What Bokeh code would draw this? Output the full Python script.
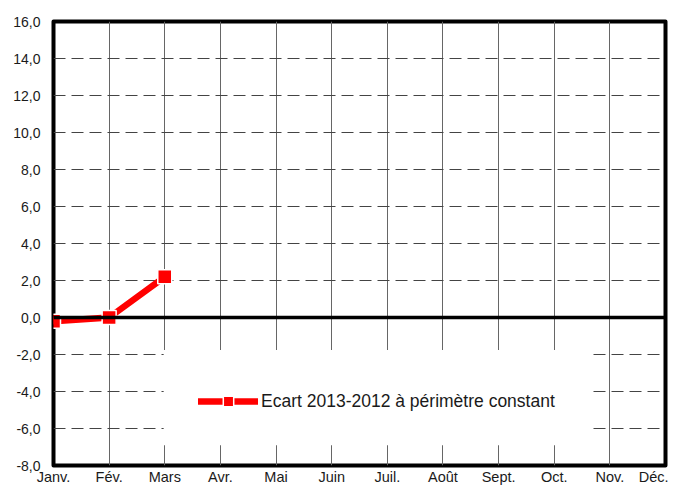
from bokeh.plotting import figure
from bokeh.models import Range1d, FixedTicker, Span, Legend, LegendItem, BoxAnnotation
from bokeh.embed import file_html
from bokeh.resources import INLINE

months = ["Janv.", "Fév.", "Mars", "Avr.", "Mai", "Juin", "Juil.", "Août",
          "Sept.", "Oct.", "Nov.", "Déc."]
ecart = [-0.2, 0.0, 2.2]
series_label = "Ecart 2013-2012 à périmètre constant"
y_ticks = [-8, -6, -4, -2, 0, 2, 4, 6, 8, 10, 12, 14, 16]

FONT = "Liberation Sans"
RED = "#ff0000"

p = figure(width=668, height=487, output_backend="svg", toolbar_location=None,
           x_range=Range1d(0, len(months) - 1), y_range=Range1d(y_ticks[0], y_ticks[-1]),
           min_border_left=53, min_border_right=3, min_border_top=21, min_border_bottom=20)

p.background_fill_color = "white"
p.border_fill_color = "white"
p.outline_line_color = "black"
p.outline_line_width = 4
p.outline_line_join = "round"

# axes
p.xaxis.ticker = FixedTicker(ticks=list(range(len(months))))
p.xaxis.major_label_overrides = {i: m for i, m in enumerate(months)}
p.yaxis.ticker = FixedTicker(ticks=y_ticks)
p.yaxis.major_label_overrides = {v: f"{v:.1f}".replace(".", ",") for v in y_ticks}
for ax in (p.xaxis[0], p.yaxis[0]):
    ax.axis_line_color = None
    ax.major_tick_line_color = None
    ax.minor_tick_line_color = None
    ax.major_tick_in = 0
    ax.major_tick_out = 0
    ax.minor_tick_in = 0
    ax.minor_tick_out = 0
    ax.major_label_text_font = FONT
    ax.major_label_text_color = "#1a1a1a"
p.xaxis.major_label_text_font_size = "14.5px"
p.xaxis.major_label_standoff = 3
p.yaxis.major_label_text_font_size = "14px"
p.yaxis.major_label_standoff = 13

# grids
p.xgrid.ticker = FixedTicker(ticks=list(range(len(months))))
p.xgrid.grid_line_color = "#666666"
p.xgrid.grid_line_width = 1
p.ygrid.ticker = FixedTicker(ticks=y_ticks)
p.ygrid.grid_line_color = "#444444"
p.ygrid.grid_line_width = 1
p.ygrid.grid_line_dash = "12 6"

p.add_layout(Span(location=0, dimension="width", line_color="black", line_width=3.5))

# white legend area that hides the grid (as in the original chart)
p.add_layout(BoxAnnotation(left=1.98, right=9.69, top=-1.75, bottom=-6.9,
                           fill_color="white", fill_alpha=1.0, line_color=None))

xs = list(range(len(ecart)))
ln = p.line(xs, ecart, line_color=RED, line_width=6.5, line_cap="round", line_join="round")
sc = p.scatter(xs, ecart, marker="square", size=14, fill_color=RED,
               line_color="white", line_width=1.5)

legend = Legend(items=[LegendItem(label=series_label, renderers=[ln, sc])],
                location=(145, 51), orientation="vertical")
legend.background_fill_color = "white"
legend.background_fill_alpha = 1.0
legend.border_line_color = None
legend.padding = 35
legend.margin = 0
legend.glyph_width = 60
legend.glyph_height = 26
legend.label_height = 26
legend.label_standoff = 3
legend.label_text_font = FONT
legend.label_text_font_size = "17.5px"
legend.label_text_color = "#1a1a1a"
p.add_layout(legend, "center")

open("out.html", "w").write(file_html(p, INLINE))
